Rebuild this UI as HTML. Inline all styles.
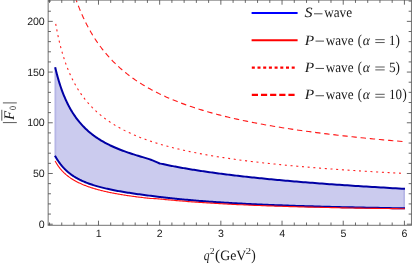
<!DOCTYPE html>
<html><head><meta charset="utf-8"><title>plot</title>
<style>
html,body{margin:0;padding:0;background:#fff;}
body{width:413px;height:266px;overflow:hidden;}
svg{display:block;will-change:transform;}
.tl text{font-family:"Liberation Sans",sans-serif;font-size:10.6px;fill:#1a1a1a;text-rendering:geometricPrecision;letter-spacing:-0.25px;}
.ser{font-family:"Liberation Serif",serif;fill:#181818;text-rendering:geometricPrecision;}
</style></head><body>
<svg width="413" height="266" viewBox="0 0 413 266">
<rect width="413" height="266" fill="#fff"/>
<defs><clipPath id="cp"><rect x="48.15" y="0.1" width="363.3" height="225.20000000000002"/></clipPath></defs>
<g clip-path="url(#cp)" fill="none" stroke-linejoin="round">
<path d="M54.5,67.17 L55.15,67.17 L55.42,68.31 L55.69,69.44 L55.97,70.57 L56.25,71.69 L56.53,72.81 L56.82,73.92 L57.12,75.03 L57.41,76.12 L57.72,77.22 L58.02,78.30 L58.34,79.38 L58.65,80.46 L58.97,81.52 L59.30,82.58 L59.63,83.64 L59.97,84.68 L60.31,85.72 L60.65,86.76 L61.00,87.79 L61.36,88.81 L61.72,89.82 L62.09,90.83 L62.46,91.83 L62.84,92.82 L63.23,93.81 L63.62,94.79 L64.01,95.76 L64.41,96.72 L64.82,97.68 L65.23,98.64 L65.65,99.58 L66.08,100.52 L66.51,101.45 L66.95,102.37 L67.40,103.29 L67.85,104.20 L68.31,105.10 L68.78,106.00 L69.25,106.88 L69.73,107.77 L70.22,108.64 L70.71,109.51 L71.22,110.37 L71.73,111.22 L72.24,112.07 L72.77,112.91 L73.30,113.74 L73.84,114.56 L74.39,115.38 L74.95,116.19 L75.52,117.00 L76.09,117.79 L76.67,118.58 L77.27,119.37 L77.87,120.14 L78.48,120.91 L79.10,121.67 L79.72,122.43 L80.36,123.18 L81.01,123.92 L81.67,124.65 L82.33,125.38 L83.01,126.10 L83.70,126.81 L84.39,127.52 L85.10,128.22 L85.82,128.92 L86.55,129.60 L87.29,130.29 L88.04,130.96 L88.81,131.63 L89.58,132.29 L90.37,132.94 L91.16,133.59 L91.97,134.23 L92.79,134.86 L93.63,135.49 L94.48,136.11 L95.34,136.73 L96.21,137.34 L97.09,137.94 L97.99,138.54 L98.90,139.13 L99.83,139.71 L100.77,140.29 L101.72,140.86 L102.69,141.43 L103.68,141.99 L104.67,142.54 L105.69,143.09 L106.71,143.63 L107.76,144.16 L108.82,144.69 L109.89,145.22 L110.98,145.73 L112.09,146.25 L113.21,146.76 L114.35,147.26 L115.51,147.76 L116.69,148.26 L117.88,148.75 L119.09,149.24 L120.32,149.73 L121.57,150.21 L122.84,150.69 L124.12,151.17 L125.43,151.64 L126.75,152.11 L128.10,152.58 L129.46,153.04 L130.85,153.51 L132.25,153.97 L133.68,154.42 L135.13,154.88 L136.60,155.34 L138.09,155.79 L139.60,156.24 L141.14,156.69 L142.70,157.15 L144.29,157.62 L145.90,158.10 L147.53,158.62 L149.18,159.16 L150.87,159.75 L152.57,160.38 L154.30,161.06 L156.06,161.81 L157.85,162.61 L159.66,163.48 L160.71,163.63 L161.77,163.86 L162.83,164.09 L163.91,164.32 L164.99,164.55 L166.09,164.78 L167.19,165.00 L168.30,165.23 L169.42,165.46 L170.56,165.68 L171.70,165.91 L172.85,166.13 L174.01,166.36 L175.18,166.58 L176.36,166.80 L177.55,167.02 L178.75,167.24 L179.97,167.47 L181.19,167.69 L182.42,167.90 L183.66,168.12 L184.92,168.34 L186.18,168.56 L187.46,168.78 L188.74,168.99 L190.04,169.21 L191.35,169.42 L192.67,169.64 L194.00,169.85 L195.34,170.07 L196.70,170.28 L198.06,170.49 L199.44,170.70 L200.83,170.92 L202.23,171.13 L203.64,171.34 L205.07,171.55 L206.50,171.76 L207.95,171.96 L209.41,172.17 L210.89,172.38 L212.38,172.59 L213.88,172.79 L215.39,173.00 L216.91,173.21 L218.45,173.41 L220.00,173.62 L221.57,173.82 L223.15,174.02 L224.74,174.23 L226.34,174.43 L227.96,174.63 L229.60,174.83 L231.24,175.03 L232.91,175.23 L234.58,175.43 L236.27,175.63 L237.98,175.83 L239.69,176.03 L241.43,176.23 L243.18,176.42 L244.94,176.62 L246.72,176.82 L248.51,177.01 L250.32,177.21 L252.15,177.40 L253.99,177.60 L255.84,177.79 L257.72,177.99 L259.60,178.18 L261.51,178.37 L263.43,178.56 L265.37,178.76 L267.32,178.95 L269.29,179.14 L271.28,179.33 L273.28,179.52 L275.30,179.71 L277.34,179.90 L279.40,180.09 L281.47,180.27 L283.56,180.46 L285.67,180.65 L287.80,180.84 L289.94,181.02 L292.11,181.21 L294.29,181.39 L296.49,181.58 L298.71,181.76 L300.95,181.95 L303.21,182.13 L305.49,182.32 L307.79,182.50 L310.10,182.68 L312.44,182.86 L314.80,183.04 L317.17,183.23 L319.57,183.41 L321.99,183.59 L324.43,183.77 L326.89,183.95 L329.37,184.13 L331.87,184.30 L334.39,184.48 L336.94,184.66 L339.50,184.84 L342.09,185.01 L344.70,185.19 L347.33,185.37 L349.99,185.54 L352.67,185.72 L355.37,185.89 L358.09,186.07 L360.84,186.24 L363.61,186.42 L366.41,186.59 L369.23,186.76 L372.07,186.93 L374.94,187.11 L377.83,187.28 L380.75,187.45 L383.69,187.62 L386.66,187.79 L389.65,187.96 L392.67,188.13 L395.71,188.30 L398.78,188.47 L401.88,188.64 L405.00,188.80 L405.00,208.34 L401.88,208.29 L398.78,208.24 L395.71,208.19 L392.67,208.13 L389.65,208.08 L386.66,208.03 L383.69,207.98 L380.75,207.93 L377.83,207.87 L374.94,207.82 L372.07,207.76 L369.23,207.71 L366.41,207.65 L363.61,207.60 L360.84,207.54 L358.09,207.49 L355.37,207.43 L352.67,207.37 L349.99,207.31 L347.33,207.25 L344.70,207.19 L342.09,207.13 L339.50,207.07 L336.94,207.01 L334.39,206.95 L331.87,206.89 L329.37,206.82 L326.89,206.76 L324.43,206.70 L321.99,206.63 L319.57,206.57 L317.17,206.50 L314.80,206.43 L312.44,206.37 L310.10,206.30 L307.79,206.23 L305.49,206.16 L303.21,206.09 L300.95,206.02 L298.71,205.95 L296.49,205.88 L294.29,205.81 L292.11,205.73 L289.94,205.66 L287.80,205.59 L285.67,205.51 L283.56,205.44 L281.47,205.36 L279.40,205.28 L277.34,205.21 L275.30,205.13 L273.28,205.05 L271.28,204.97 L269.29,204.89 L267.32,204.81 L265.37,204.73 L263.43,204.65 L261.51,204.56 L259.60,204.48 L257.72,204.39 L255.84,204.31 L253.99,204.22 L252.15,204.14 L250.32,204.05 L248.51,203.96 L246.72,203.88 L244.94,203.79 L243.18,203.70 L241.43,203.61 L239.69,203.52 L237.98,203.42 L236.27,203.33 L234.58,203.24 L232.91,203.14 L231.24,203.05 L229.60,202.95 L227.96,202.86 L226.34,202.76 L224.74,202.66 L223.15,202.56 L221.57,202.46 L220.00,202.37 L218.45,202.26 L216.91,202.16 L215.39,202.06 L213.88,201.96 L212.38,201.86 L210.89,201.75 L209.41,201.65 L207.95,201.54 L206.50,201.43 L205.07,201.33 L203.64,201.22 L202.23,201.11 L200.83,201.00 L199.44,200.89 L198.06,200.78 L196.70,200.67 L195.34,200.56 L194.00,200.45 L192.67,200.33 L191.35,200.22 L190.04,200.10 L188.74,199.99 L187.46,199.87 L186.18,199.76 L184.92,199.64 L183.66,199.52 L182.42,199.40 L181.19,199.28 L179.97,199.16 L178.75,199.04 L177.55,198.92 L176.36,198.80 L175.18,198.68 L174.01,198.55 L172.85,198.43 L171.70,198.31 L170.56,198.18 L169.42,198.06 L168.30,197.93 L167.19,197.80 L166.09,197.68 L164.99,197.55 L163.91,197.42 L162.83,197.29 L161.77,197.16 L160.71,197.03 L159.66,196.90 L157.84,196.69 L156.04,196.48 L154.27,196.27 L152.52,196.05 L150.80,195.84 L149.11,195.63 L147.44,195.42 L145.80,195.21 L144.18,194.99 L142.59,194.78 L141.02,194.57 L139.47,194.36 L137.95,194.15 L136.45,193.93 L134.97,193.72 L133.51,193.51 L132.08,193.29 L130.66,193.08 L129.27,192.86 L127.90,192.65 L126.55,192.43 L125.22,192.22 L123.90,192.00 L122.61,191.78 L121.34,191.56 L120.09,191.34 L118.85,191.12 L117.64,190.90 L116.44,190.67 L115.26,190.45 L114.09,190.22 L112.95,189.99 L111.82,189.76 L110.71,189.53 L109.61,189.30 L108.54,189.07 L107.47,188.84 L106.43,188.60 L105.39,188.36 L104.38,188.12 L103.38,187.88 L102.39,187.64 L101.42,187.39 L100.47,187.14 L99.52,186.89 L98.60,186.64 L97.68,186.39 L96.78,186.13 L95.89,185.87 L95.02,185.61 L94.16,185.35 L93.31,185.09 L92.47,184.82 L91.65,184.55 L90.84,184.28 L90.04,184.00 L89.25,183.72 L88.48,183.44 L87.72,183.16 L86.96,182.87 L86.22,182.58 L85.49,182.29 L84.77,182.00 L84.07,181.70 L83.37,181.40 L82.68,181.10 L82.00,180.79 L81.34,180.48 L80.68,180.17 L80.03,179.85 L79.40,179.53 L78.77,179.21 L78.15,178.88 L77.54,178.55 L76.94,178.22 L76.35,177.88 L75.77,177.54 L75.19,177.20 L74.63,176.85 L74.07,176.51 L73.52,176.15 L72.98,175.80 L72.45,175.44 L71.92,175.07 L71.41,174.71 L70.90,174.33 L70.40,173.96 L69.90,173.58 L69.42,173.20 L68.94,172.82 L68.47,172.43 L68.00,172.04 L67.54,171.64 L67.09,171.25 L66.65,170.84 L66.21,170.44 L65.78,170.03 L65.35,169.62 L64.93,169.21 L64.52,168.79 L64.11,168.37 L63.71,167.94 L63.32,167.52 L62.93,167.09 L62.55,166.65 L62.17,166.22 L61.80,165.78 L61.44,165.34 L61.08,164.89 L60.72,164.45 L60.37,164.00 L60.03,163.55 L59.69,163.10 L59.35,162.64 L59.02,162.18 L58.70,161.73 L58.38,161.27 L58.07,160.80 L57.76,160.34 L57.45,159.88 L57.15,159.41 L56.85,158.94 L56.56,158.48 L56.27,158.01 L55.99,157.54 L55.71,157.07 L55.44,156.61 L55.17,156.14 L54.90,155.67 L54.5,155.67 Z" fill="#cbcbee" stroke="none"/>
<path d="M54.5,67.17 H56.3 V158.67 H54.5 Z M403.2,187.80 H405 V208.34 H403.2 Z" fill="#0000aa" fill-opacity="0.1" stroke="none"/>
<path d="M55.15,67.17 L55.42,68.31 L55.69,69.44 L55.97,70.57 L56.25,71.69 L56.53,72.81 L56.82,73.92 L57.12,75.03 L57.41,76.12 L57.72,77.22 L58.02,78.30 L58.34,79.38 L58.65,80.46 L58.97,81.52 L59.30,82.58 L59.63,83.64 L59.97,84.68 L60.31,85.72 L60.65,86.76 L61.00,87.79 L61.36,88.81 L61.72,89.82 L62.09,90.83 L62.46,91.83 L62.84,92.82 L63.23,93.81 L63.62,94.79 L64.01,95.76 L64.41,96.72 L64.82,97.68 L65.23,98.64 L65.65,99.58 L66.08,100.52 L66.51,101.45 L66.95,102.37 L67.40,103.29 L67.85,104.20 L68.31,105.10 L68.78,106.00 L69.25,106.88 L69.73,107.77 L70.22,108.64 L70.71,109.51 L71.22,110.37 L71.73,111.22 L72.24,112.07 L72.77,112.91 L73.30,113.74 L73.84,114.56 L74.39,115.38 L74.95,116.19 L75.52,117.00 L76.09,117.79 L76.67,118.58 L77.27,119.37 L77.87,120.14 L78.48,120.91 L79.10,121.67 L79.72,122.43 L80.36,123.18 L81.01,123.92 L81.67,124.65 L82.33,125.38 L83.01,126.10 L83.70,126.81 L84.39,127.52 L85.10,128.22 L85.82,128.92 L86.55,129.60 L87.29,130.29 L88.04,130.96 L88.81,131.63 L89.58,132.29 L90.37,132.94 L91.16,133.59 L91.97,134.23 L92.79,134.86 L93.63,135.49 L94.48,136.11 L95.34,136.73 L96.21,137.34 L97.09,137.94 L97.99,138.54 L98.90,139.13 L99.83,139.71 L100.77,140.29 L101.72,140.86 L102.69,141.43 L103.68,141.99 L104.67,142.54 L105.69,143.09 L106.71,143.63 L107.76,144.16 L108.82,144.69 L109.89,145.22 L110.98,145.73 L112.09,146.25 L113.21,146.76 L114.35,147.26 L115.51,147.76 L116.69,148.26 L117.88,148.75 L119.09,149.24 L120.32,149.73 L121.57,150.21 L122.84,150.69 L124.12,151.17 L125.43,151.64 L126.75,152.11 L128.10,152.58 L129.46,153.04 L130.85,153.51 L132.25,153.97 L133.68,154.42 L135.13,154.88 L136.60,155.34 L138.09,155.79 L139.60,156.24 L141.14,156.69 L142.70,157.15 L144.29,157.62 L145.90,158.10 L147.53,158.62 L149.18,159.16 L150.87,159.75 L152.57,160.38 L154.30,161.06 L156.06,161.81 L157.85,162.61 L159.66,163.48 L160.71,163.63 L161.77,163.86 L162.83,164.09 L163.91,164.32 L164.99,164.55 L166.09,164.78 L167.19,165.00 L168.30,165.23 L169.42,165.46 L170.56,165.68 L171.70,165.91 L172.85,166.13 L174.01,166.36 L175.18,166.58 L176.36,166.80 L177.55,167.02 L178.75,167.24 L179.97,167.47 L181.19,167.69 L182.42,167.90 L183.66,168.12 L184.92,168.34 L186.18,168.56 L187.46,168.78 L188.74,168.99 L190.04,169.21 L191.35,169.42 L192.67,169.64 L194.00,169.85 L195.34,170.07 L196.70,170.28 L198.06,170.49 L199.44,170.70 L200.83,170.92 L202.23,171.13 L203.64,171.34 L205.07,171.55 L206.50,171.76 L207.95,171.96 L209.41,172.17 L210.89,172.38 L212.38,172.59 L213.88,172.79 L215.39,173.00 L216.91,173.21 L218.45,173.41 L220.00,173.62 L221.57,173.82 L223.15,174.02 L224.74,174.23 L226.34,174.43 L227.96,174.63 L229.60,174.83 L231.24,175.03 L232.91,175.23 L234.58,175.43 L236.27,175.63 L237.98,175.83 L239.69,176.03 L241.43,176.23 L243.18,176.42 L244.94,176.62 L246.72,176.82 L248.51,177.01 L250.32,177.21 L252.15,177.40 L253.99,177.60 L255.84,177.79 L257.72,177.99 L259.60,178.18 L261.51,178.37 L263.43,178.56 L265.37,178.76 L267.32,178.95 L269.29,179.14 L271.28,179.33 L273.28,179.52 L275.30,179.71 L277.34,179.90 L279.40,180.09 L281.47,180.27 L283.56,180.46 L285.67,180.65 L287.80,180.84 L289.94,181.02 L292.11,181.21 L294.29,181.39 L296.49,181.58 L298.71,181.76 L300.95,181.95 L303.21,182.13 L305.49,182.32 L307.79,182.50 L310.10,182.68 L312.44,182.86 L314.80,183.04 L317.17,183.23 L319.57,183.41 L321.99,183.59 L324.43,183.77 L326.89,183.95 L329.37,184.13 L331.87,184.30 L334.39,184.48 L336.94,184.66 L339.50,184.84 L342.09,185.01 L344.70,185.19 L347.33,185.37 L349.99,185.54 L352.67,185.72 L355.37,185.89 L358.09,186.07 L360.84,186.24 L363.61,186.42 L366.41,186.59 L369.23,186.76 L372.07,186.93 L374.94,187.11 L377.83,187.28 L380.75,187.45 L383.69,187.62 L386.66,187.79 L389.65,187.96 L392.67,188.13 L395.71,188.30 L398.78,188.47 L401.88,188.64 L405.00,188.80" stroke="#0000a4" stroke-width="2.0"/>
<path d="M54.90,155.67 L55.17,156.14 L55.44,156.61 L55.71,157.07 L55.99,157.54 L56.27,158.01 L56.56,158.48 L56.85,158.94 L57.15,159.41 L57.45,159.88 L57.76,160.34 L58.07,160.80 L58.38,161.27 L58.70,161.73 L59.02,162.18 L59.35,162.64 L59.69,163.10 L60.03,163.55 L60.37,164.00 L60.72,164.45 L61.08,164.89 L61.44,165.34 L61.80,165.78 L62.17,166.22 L62.55,166.65 L62.93,167.09 L63.32,167.52 L63.71,167.94 L64.11,168.37 L64.52,168.79 L64.93,169.21 L65.35,169.62 L65.78,170.03 L66.21,170.44 L66.65,170.84 L67.09,171.25 L67.54,171.64 L68.00,172.04 L68.47,172.43 L68.94,172.82 L69.42,173.20 L69.90,173.58 L70.40,173.96 L70.90,174.33 L71.41,174.71 L71.92,175.07 L72.45,175.44 L72.98,175.80 L73.52,176.15 L74.07,176.51 L74.63,176.85 L75.19,177.20 L75.77,177.54 L76.35,177.88 L76.94,178.22 L77.54,178.55 L78.15,178.88 L78.77,179.21 L79.40,179.53 L80.03,179.85 L80.68,180.17 L81.34,180.48 L82.00,180.79 L82.68,181.10 L83.37,181.40 L84.07,181.70 L84.77,182.00 L85.49,182.29 L86.22,182.58 L86.96,182.87 L87.72,183.16 L88.48,183.44 L89.25,183.72 L90.04,184.00 L90.84,184.28 L91.65,184.55 L92.47,184.82 L93.31,185.09 L94.16,185.35 L95.02,185.61 L95.89,185.87 L96.78,186.13 L97.68,186.39 L98.60,186.64 L99.52,186.89 L100.47,187.14 L101.42,187.39 L102.39,187.64 L103.38,187.88 L104.38,188.12 L105.39,188.36 L106.43,188.60 L107.47,188.84 L108.54,189.07 L109.61,189.30 L110.71,189.53 L111.82,189.76 L112.95,189.99 L114.09,190.22 L115.26,190.45 L116.44,190.67 L117.64,190.90 L118.85,191.12 L120.09,191.34 L121.34,191.56 L122.61,191.78 L123.90,192.00 L125.22,192.22 L126.55,192.43 L127.90,192.65 L129.27,192.86 L130.66,193.08 L132.08,193.29 L133.51,193.51 L134.97,193.72 L136.45,193.93 L137.95,194.15 L139.47,194.36 L141.02,194.57 L142.59,194.78 L144.18,194.99 L145.80,195.21 L147.44,195.42 L149.11,195.63 L150.80,195.84 L152.52,196.05 L154.27,196.27 L156.04,196.48 L157.84,196.69 L159.66,196.90 L160.71,197.03 L161.77,197.16 L162.83,197.29 L163.91,197.42 L164.99,197.55 L166.09,197.68 L167.19,197.80 L168.30,197.93 L169.42,198.06 L170.56,198.18 L171.70,198.31 L172.85,198.43 L174.01,198.55 L175.18,198.68 L176.36,198.80 L177.55,198.92 L178.75,199.04 L179.97,199.16 L181.19,199.28 L182.42,199.40 L183.66,199.52 L184.92,199.64 L186.18,199.76 L187.46,199.87 L188.74,199.99 L190.04,200.10 L191.35,200.22 L192.67,200.33 L194.00,200.45 L195.34,200.56 L196.70,200.67 L198.06,200.78 L199.44,200.89 L200.83,201.00 L202.23,201.11 L203.64,201.22 L205.07,201.33 L206.50,201.43 L207.95,201.54 L209.41,201.65 L210.89,201.75 L212.38,201.86 L213.88,201.96 L215.39,202.06 L216.91,202.16 L218.45,202.26 L220.00,202.37 L221.57,202.46 L223.15,202.56 L224.74,202.66 L226.34,202.76 L227.96,202.86 L229.60,202.95 L231.24,203.05 L232.91,203.14 L234.58,203.24 L236.27,203.33 L237.98,203.42 L239.69,203.52 L241.43,203.61 L243.18,203.70 L244.94,203.79 L246.72,203.88 L248.51,203.96 L250.32,204.05 L252.15,204.14 L253.99,204.22 L255.84,204.31 L257.72,204.39 L259.60,204.48 L261.51,204.56 L263.43,204.65 L265.37,204.73 L267.32,204.81 L269.29,204.89 L271.28,204.97 L273.28,205.05 L275.30,205.13 L277.34,205.21 L279.40,205.28 L281.47,205.36 L283.56,205.44 L285.67,205.51 L287.80,205.59 L289.94,205.66 L292.11,205.73 L294.29,205.81 L296.49,205.88 L298.71,205.95 L300.95,206.02 L303.21,206.09 L305.49,206.16 L307.79,206.23 L310.10,206.30 L312.44,206.37 L314.80,206.43 L317.17,206.50 L319.57,206.57 L321.99,206.63 L324.43,206.70 L326.89,206.76 L329.37,206.82 L331.87,206.89 L334.39,206.95 L336.94,207.01 L339.50,207.07 L342.09,207.13 L344.70,207.19 L347.33,207.25 L349.99,207.31 L352.67,207.37 L355.37,207.43 L358.09,207.49 L360.84,207.54 L363.61,207.60 L366.41,207.65 L369.23,207.71 L372.07,207.76 L374.94,207.82 L377.83,207.87 L380.75,207.93 L383.69,207.98 L386.66,208.03 L389.65,208.08 L392.67,208.13 L395.71,208.19 L398.78,208.24 L401.88,208.29 L405.00,208.34" stroke="#0000a4" stroke-width="2.0"/>
<path d="M55.10,160.91 L55.31,161.30 L55.52,161.69 L55.74,162.07 L55.95,162.45 L56.17,162.83 L56.39,163.20 L56.62,163.57 L56.85,163.94 L57.08,164.30 L57.31,164.66 L57.54,165.02 L57.78,165.38 L58.02,165.73 L58.27,166.08 L58.51,166.43 L58.76,166.77 L59.02,167.11 L59.27,167.45 L59.53,167.79 L59.79,168.12 L60.06,168.45 L60.32,168.78 L60.60,169.11 L60.87,169.43 L61.15,169.75 L61.43,170.07 L61.71,170.39 L62.00,170.70 L62.29,171.02 L62.58,171.33 L62.88,171.63 L63.18,171.94 L63.49,172.24 L63.79,172.55 L64.11,172.84 L64.42,173.14 L64.74,173.44 L65.06,173.73 L65.39,174.02 L65.72,174.31 L66.05,174.60 L66.39,174.88 L66.73,175.17 L67.08,175.45 L67.43,175.73 L67.78,176.01 L68.14,176.28 L68.51,176.56 L68.87,176.83 L69.24,177.10 L69.62,177.37 L70.00,177.64 L70.39,177.90 L70.77,178.17 L71.17,178.43 L71.57,178.69 L71.97,178.95 L72.38,179.21 L72.79,179.46 L73.21,179.72 L73.63,179.97 L74.06,180.22 L74.49,180.47 L74.93,180.72 L75.37,180.96 L75.82,181.21 L76.27,181.45 L76.73,181.69 L77.19,181.93 L77.66,182.17 L78.14,182.41 L78.62,182.65 L79.10,182.88 L79.59,183.11 L80.09,183.34 L80.59,183.58 L81.10,183.80 L81.62,184.03 L82.14,184.26 L82.67,184.48 L83.20,184.71 L83.74,184.93 L84.29,185.15 L84.84,185.37 L85.40,185.59 L85.96,185.80 L86.54,186.02 L87.11,186.23 L87.70,186.45 L88.29,186.66 L88.89,186.87 L89.50,187.08 L90.11,187.28 L90.73,187.49 L91.36,187.70 L92.00,187.90 L92.64,188.10 L93.29,188.30 L93.95,188.50 L94.62,188.70 L95.29,188.90 L95.97,189.10 L96.66,189.29 L97.36,189.49 L98.07,189.68 L98.78,189.88 L99.50,190.07 L100.24,190.26 L100.98,190.44 L101.72,190.63 L102.48,190.82 L103.25,191.00 L104.02,191.19 L104.81,191.37 L105.60,191.55 L106.41,191.73 L107.22,191.91 L108.04,192.09 L108.87,192.27 L109.71,192.45 L110.56,192.62 L111.43,192.80 L112.30,192.97 L113.18,193.14 L114.07,193.31 L114.97,193.48 L115.89,193.65 L116.81,193.82 L117.75,193.99 L118.69,194.15 L119.65,194.32 L120.62,194.48 L121.60,194.65 L122.59,194.81 L123.59,194.97 L124.61,195.13 L125.63,195.29 L126.67,195.44 L127.72,195.60 L128.78,195.76 L129.86,195.91 L130.95,196.07 L132.05,196.22 L133.16,196.37 L134.29,196.52 L135.43,196.67 L136.58,196.82 L137.75,196.97 L138.93,197.12 L140.13,197.26 L141.34,197.41 L142.56,197.55 L143.80,197.70 L145.05,197.84 L146.32,197.98 L147.60,198.12 L148.90,198.26 L150.21,198.39 L151.53,198.46 L152.88,198.53 L154.24,198.60 L155.61,198.68 L157.00,198.77 L158.41,198.87 L159.83,199.00 L161.27,199.14 L162.73,199.29 L164.21,199.43 L165.70,199.57 L167.21,199.72 L168.73,199.86 L170.28,200.00 L171.84,200.15 L173.43,200.29 L175.03,200.44 L176.64,200.58 L178.28,200.72 L179.94,200.87 L181.62,201.01 L183.31,201.15 L185.03,201.30 L186.77,201.44 L188.52,201.58 L190.30,201.72 L192.10,201.86 L193.92,202.00 L195.76,202.13 L197.63,202.27 L199.51,202.40 L201.42,202.53 L203.35,202.66 L205.30,202.79 L207.27,202.92 L209.27,203.04 L211.29,203.17 L213.34,203.29 L215.41,203.41 L217.50,203.53 L219.62,203.65 L221.76,203.77 L223.93,203.89 L226.13,204.01 L228.35,204.13 L230.59,204.24 L232.86,204.36 L235.16,204.47 L237.49,204.58 L239.84,204.69 L242.22,204.80 L244.63,204.91 L247.07,205.02 L249.54,205.12 L252.03,205.23 L254.56,205.33 L257.11,205.44 L259.69,205.54 L262.31,205.64 L264.95,205.74 L267.63,205.84 L270.34,205.93 L273.08,206.03 L275.85,206.12 L278.65,206.22 L281.49,206.31 L284.36,206.40 L287.27,206.49 L290.20,206.58 L293.18,206.66 L296.19,206.75 L299.23,206.83 L302.31,206.92 L305.42,207.00 L308.58,207.08 L311.76,207.16 L314.99,207.24 L318.26,207.31 L321.56,207.39 L324.90,207.46 L328.28,207.54 L331.70,207.61 L335.16,207.68 L338.66,207.75 L342.21,207.82 L345.79,207.89 L349.42,207.95 L353.09,208.02 L356.80,208.08 L360.55,208.15 L364.35,208.21 L368.20,208.27 L372.09,208.33 L376.02,208.39 L380.01,208.45 L384.04,208.51 L388.11,208.56 L392.24,208.62 L396.41,208.68 L400.63,208.73 L404.90,208.78" stroke="#ff1010" stroke-width="1.12"/>
<path d="M55.60,23.24 L55.81,24.45 L56.03,25.66 L56.25,26.85 L56.47,28.04 L56.69,29.21 L56.91,30.37 L57.14,31.53 L57.37,32.68 L57.61,33.81 L57.84,34.94 L58.08,36.06 L58.32,37.17 L58.57,38.28 L58.81,39.37 L59.06,40.45 L59.32,41.53 L59.57,42.60 L59.83,43.66 L60.09,44.72 L60.36,45.76 L60.62,46.80 L60.89,47.83 L61.17,48.85 L61.45,49.87 L61.73,50.88 L62.01,51.88 L62.30,52.87 L62.59,53.86 L62.88,54.84 L63.18,55.81 L63.48,56.78 L63.78,57.74 L64.09,58.69 L64.40,59.64 L64.72,60.58 L65.04,61.51 L65.36,62.44 L65.68,63.36 L66.01,64.27 L66.35,65.18 L66.68,66.09 L67.03,66.98 L67.37,67.88 L67.72,68.76 L68.07,69.64 L68.43,70.51 L68.79,71.38 L69.16,72.25 L69.53,73.10 L69.90,73.96 L70.28,74.80 L70.66,75.64 L71.05,76.48 L71.44,77.31 L71.84,78.14 L72.24,78.96 L72.65,79.77 L73.06,80.58 L73.47,81.39 L73.89,82.19 L74.32,82.98 L74.75,83.77 L75.18,84.56 L75.62,85.34 L76.07,86.12 L76.52,86.89 L76.97,87.65 L77.43,88.42 L77.90,89.17 L78.37,89.93 L78.85,90.67 L79.33,91.42 L79.82,92.16 L80.31,92.89 L80.81,93.62 L81.32,94.35 L81.83,95.07 L82.35,95.79 L82.87,96.50 L83.40,97.21 L83.93,97.92 L84.48,98.62 L85.02,99.31 L85.58,100.01 L86.14,100.70 L86.71,101.38 L87.28,102.06 L87.86,102.74 L88.45,103.41 L89.04,104.08 L89.64,104.74 L90.25,105.40 L90.86,106.06 L91.49,106.71 L92.11,107.36 L92.75,108.00 L93.40,108.64 L94.05,109.28 L94.71,109.92 L95.37,110.55 L96.05,111.17 L96.73,111.79 L97.42,112.41 L98.12,113.03 L98.82,113.64 L99.54,114.25 L100.26,114.85 L100.99,115.45 L101.73,116.05 L102.48,116.64 L103.23,117.23 L104.00,117.82 L104.77,118.40 L105.56,118.98 L106.35,119.55 L107.15,120.13 L107.96,120.70 L108.78,121.26 L109.61,121.82 L110.45,122.38 L111.30,122.94 L112.16,123.49 L113.03,124.04 L113.91,124.58 L114.80,125.13 L115.70,125.66 L116.61,126.20 L117.53,126.73 L118.46,127.26 L119.40,127.79 L120.36,128.31 L121.32,128.83 L122.30,129.34 L123.28,129.86 L124.28,130.37 L125.29,130.87 L126.31,131.38 L127.35,131.88 L128.39,132.37 L129.45,132.87 L130.52,133.36 L131.60,133.85 L132.70,134.33 L133.80,134.81 L134.93,135.29 L136.06,135.77 L137.20,136.24 L138.36,136.71 L139.54,137.18 L140.73,137.64 L141.93,138.10 L143.14,138.56 L144.37,139.01 L145.61,139.47 L146.87,139.91 L148.14,140.36 L149.43,140.80 L150.73,141.24 L152.05,141.68 L153.38,142.12 L154.73,142.55 L156.09,142.98 L157.47,143.40 L158.86,143.83 L160.28,144.25 L161.70,144.67 L163.15,145.08 L164.61,145.50 L166.09,145.91 L167.58,146.31 L169.09,146.72 L170.62,147.12 L172.17,147.52 L173.74,147.91 L175.32,148.31 L176.92,148.70 L178.54,149.09 L180.18,149.47 L181.84,149.86 L183.52,150.24 L185.22,150.62 L186.93,150.99 L188.67,151.37 L190.43,151.74 L192.21,152.10 L194.00,152.47 L195.82,152.83 L197.66,153.19 L199.53,153.55 L201.41,153.91 L203.31,154.26 L205.24,154.61 L207.19,154.96 L209.16,155.31 L211.16,155.65 L213.18,155.99 L215.22,156.33 L217.28,156.67 L219.37,157.00 L221.49,157.33 L223.62,157.66 L225.79,157.99 L227.98,158.31 L230.19,158.64 L232.43,158.96 L234.69,159.28 L236.98,159.59 L239.30,159.91 L241.65,160.22 L244.02,160.53 L246.42,160.83 L248.85,161.14 L251.30,161.44 L253.79,161.74 L256.30,162.04 L258.84,162.34 L261.41,162.63 L264.01,162.93 L266.65,163.22 L269.31,163.50 L272.00,163.79 L274.73,164.07 L277.48,164.36 L280.27,164.64 L283.09,164.91 L285.94,165.19 L288.83,165.47 L291.75,165.74 L294.70,166.01 L297.69,166.28 L300.71,166.54 L303.77,166.81 L306.87,167.07 L309.99,167.33 L313.16,167.59 L316.36,167.85 L319.60,168.10 L322.88,168.36 L326.19,168.61 L329.55,168.86 L332.94,169.10 L336.37,169.35 L339.84,169.60 L343.35,169.84 L346.91,170.08 L350.50,170.32 L354.14,170.56 L357.81,170.79 L361.54,171.03 L365.30,171.26 L369.11,171.49 L372.96,171.72 L376.85,171.95 L380.80,172.17 L384.78,172.40 L388.82,172.62 L392.90,172.84 L397.02,173.06 L401.20,173.28" stroke="#ff2020" stroke-width="1.1" stroke-dasharray="2.0 3.72" stroke-dashoffset="-0.61"/>
<path d="M70.00,-19.72 L70.31,-18.61 L70.62,-17.50 L70.93,-16.40 L71.24,-15.31 L71.56,-14.22 L71.88,-13.14 L72.21,-12.06 L72.53,-10.99 L72.86,-9.92 L73.20,-8.86 L73.53,-7.81 L73.87,-6.75 L74.21,-5.71 L74.56,-4.67 L74.91,-3.63 L75.26,-2.60 L75.62,-1.58 L75.98,-0.56 L76.34,0.45 L76.70,1.46 L77.07,2.47 L77.45,3.47 L77.82,4.46 L78.20,5.45 L78.59,6.44 L78.97,7.42 L79.36,8.40 L79.76,9.37 L80.15,10.33 L80.56,11.30 L80.96,12.25 L81.37,13.20 L81.78,14.15 L82.20,15.10 L82.62,16.03 L83.04,16.97 L83.47,17.90 L83.91,18.82 L84.34,19.75 L84.78,20.66 L85.23,21.57 L85.68,22.48 L86.13,23.39 L86.59,24.28 L87.05,25.18 L87.51,26.07 L87.99,26.96 L88.46,27.84 L88.94,28.72 L89.42,29.59 L89.91,30.46 L90.40,31.32 L90.90,32.18 L91.40,33.04 L91.91,33.89 L92.42,34.74 L92.94,35.59 L93.46,36.43 L93.99,37.27 L94.52,38.10 L95.05,38.93 L95.59,39.75 L96.14,40.57 L96.69,41.39 L97.25,42.20 L97.81,43.01 L98.37,43.82 L98.95,44.62 L99.52,45.42 L100.11,46.21 L100.70,47.00 L101.29,47.79 L101.89,48.57 L102.49,49.35 L103.10,50.12 L103.72,50.89 L104.34,51.66 L104.97,52.42 L105.60,53.18 L106.24,53.94 L106.89,54.69 L107.54,55.44 L108.20,56.19 L108.86,56.93 L109.53,57.67 L110.21,58.40 L110.89,59.13 L111.58,59.86 L112.28,60.58 L112.98,61.30 L113.69,62.02 L114.40,62.73 L115.13,63.44 L115.86,64.15 L116.59,64.85 L117.33,65.55 L118.08,66.25 L118.84,66.94 L119.60,67.63 L120.38,68.31 L121.15,68.99 L121.94,69.67 L122.73,70.35 L123.53,71.02 L124.34,71.69 L125.15,72.35 L125.98,73.02 L126.81,73.67 L127.65,74.33 L128.49,74.98 L129.35,75.63 L130.21,76.27 L131.08,76.92 L131.96,77.56 L132.84,78.19 L133.74,78.82 L134.64,79.45 L135.55,80.08 L136.47,80.70 L137.40,81.32 L138.34,81.94 L139.29,82.55 L140.24,83.16 L141.20,83.77 L142.18,84.37 L143.16,84.97 L144.15,85.57 L145.15,86.17 L146.16,86.76 L147.18,87.35 L148.21,87.93 L149.25,88.51 L150.30,89.09 L151.36,89.67 L152.42,90.24 L153.50,90.81 L154.59,91.38 L155.69,91.94 L156.80,92.50 L157.92,93.06 L159.05,93.62 L160.19,94.17 L161.34,94.72 L162.50,95.27 L163.67,95.81 L164.86,96.35 L166.05,96.89 L167.26,97.42 L168.47,97.96 L169.70,98.49 L170.94,99.01 L172.19,99.54 L173.46,100.06 L174.73,100.58 L176.02,101.09 L177.32,101.60 L178.63,102.11 L179.95,102.62 L181.29,103.12 L182.64,103.63 L184.00,104.12 L185.37,104.62 L186.76,105.11 L188.16,105.60 L189.57,106.09 L191.00,106.58 L192.44,107.06 L193.89,107.54 L195.35,108.02 L196.83,108.49 L198.33,108.96 L199.84,109.43 L201.36,109.90 L202.90,110.36 L204.45,110.83 L206.01,111.29 L207.59,111.74 L209.19,112.20 L210.80,112.65 L212.42,113.10 L214.06,113.54 L215.72,113.99 L217.39,114.43 L219.07,114.87 L220.78,115.30 L222.49,115.74 L224.23,116.17 L225.98,116.60 L227.74,117.03 L229.53,117.45 L231.33,117.87 L233.15,118.29 L234.98,118.71 L236.83,119.12 L238.70,119.54 L240.59,119.95 L242.49,120.36 L244.41,120.76 L246.35,121.16 L248.31,121.57 L250.28,121.96 L252.28,122.36 L254.29,122.75 L256.32,123.15 L258.37,123.54 L260.44,123.92 L262.53,124.31 L264.64,124.69 L266.77,125.07 L268.92,125.45 L271.09,125.83 L273.28,126.20 L275.49,126.57 L277.72,126.94 L279.97,127.31 L282.24,127.68 L284.54,128.04 L286.85,128.40 L289.19,128.76 L291.55,129.12 L293.93,129.47 L296.33,129.83 L298.76,130.18 L301.21,130.53 L303.68,130.88 L306.17,131.22 L308.69,131.56 L311.23,131.91 L313.80,132.24 L316.38,132.58 L319.00,132.92 L321.64,133.25 L324.30,133.58 L326.99,133.91 L329.70,134.24 L332.44,134.57 L335.20,134.89 L337.99,135.21 L340.81,135.53 L343.65,135.85 L346.52,136.17 L349.41,136.48 L352.34,136.79 L355.29,137.11 L358.26,137.41 L361.27,137.72 L364.30,138.03 L367.36,138.33 L370.46,138.63 L373.57,138.93 L376.72,139.23 L379.90,139.53 L383.11,139.83 L386.35,140.12 L389.62,140.41 L392.92,140.70 L396.25,140.99 L399.61,141.28 L403.00,141.56" stroke="#ff1818" stroke-width="1.1" stroke-dasharray="5.4 3.76" stroke-dashoffset="-8.50"/>
</g>
<g fill="none" stroke="#727272" stroke-width="1">
<rect x="48.15" y="0.1" width="363.3" height="225.20000000000002"/>
<path d="M49.52,225.3 v-2.8 M49.52,0.1 v2.8 M61.76,225.3 v-2.8 M61.76,0.1 v2.8 M73.99,225.3 v-2.8 M73.99,0.1 v2.8 M86.23,225.3 v-2.8 M86.23,0.1 v2.8 M98.47,225.3 v-4.6 M98.47,0.1 v4.6 M110.71,225.3 v-2.8 M110.71,0.1 v2.8 M122.95,225.3 v-2.8 M122.95,0.1 v2.8 M135.18,225.3 v-2.8 M135.18,0.1 v2.8 M147.42,225.3 v-2.8 M147.42,0.1 v2.8 M159.66,225.3 v-4.6 M159.66,0.1 v4.6 M171.90,225.3 v-2.8 M171.90,0.1 v2.8 M184.14,225.3 v-2.8 M184.14,0.1 v2.8 M196.37,225.3 v-2.8 M196.37,0.1 v2.8 M208.61,225.3 v-2.8 M208.61,0.1 v2.8 M220.85,225.3 v-4.6 M220.85,0.1 v4.6 M233.09,225.3 v-2.8 M233.09,0.1 v2.8 M245.33,225.3 v-2.8 M245.33,0.1 v2.8 M257.56,225.3 v-2.8 M257.56,0.1 v2.8 M269.80,225.3 v-2.8 M269.80,0.1 v2.8 M282.04,225.3 v-4.6 M282.04,0.1 v4.6 M294.28,225.3 v-2.8 M294.28,0.1 v2.8 M306.52,225.3 v-2.8 M306.52,0.1 v2.8 M318.75,225.3 v-2.8 M318.75,0.1 v2.8 M330.99,225.3 v-2.8 M330.99,0.1 v2.8 M343.23,225.3 v-4.6 M343.23,0.1 v4.6 M355.47,225.3 v-2.8 M355.47,0.1 v2.8 M367.71,225.3 v-2.8 M367.71,0.1 v2.8 M379.94,225.3 v-2.8 M379.94,0.1 v2.8 M392.18,225.3 v-2.8 M392.18,0.1 v2.8 M404.42,225.3 v-4.6 M404.42,0.1 v4.6 M48.15,224.20 h4.6 M411.45,224.20 h-4.6 M48.15,214.06 h2.8 M411.45,214.06 h-2.8 M48.15,203.92 h2.8 M411.45,203.92 h-2.8 M48.15,193.77 h2.8 M411.45,193.77 h-2.8 M48.15,183.63 h2.8 M411.45,183.63 h-2.8 M48.15,173.49 h4.6 M411.45,173.49 h-4.6 M48.15,163.35 h2.8 M411.45,163.35 h-2.8 M48.15,153.21 h2.8 M411.45,153.21 h-2.8 M48.15,143.06 h2.8 M411.45,143.06 h-2.8 M48.15,132.92 h2.8 M411.45,132.92 h-2.8 M48.15,122.78 h4.6 M411.45,122.78 h-4.6 M48.15,112.64 h2.8 M411.45,112.64 h-2.8 M48.15,102.50 h2.8 M411.45,102.50 h-2.8 M48.15,92.35 h2.8 M411.45,92.35 h-2.8 M48.15,82.21 h2.8 M411.45,82.21 h-2.8 M48.15,72.07 h4.6 M411.45,72.07 h-4.6 M48.15,61.93 h2.8 M411.45,61.93 h-2.8 M48.15,51.79 h2.8 M411.45,51.79 h-2.8 M48.15,41.64 h2.8 M411.45,41.64 h-2.8 M48.15,31.50 h2.8 M411.45,31.50 h-2.8 M48.15,21.36 h4.6 M411.45,21.36 h-4.6 M48.15,11.22 h2.8 M411.45,11.22 h-2.8 M48.15,1.08 h2.8 M411.45,1.08 h-2.8" stroke="#4c4c4c" stroke-width="0.85"/>
</g>
<g class="tl"><text x="98.47" y="237.1" text-anchor="middle">1</text><text x="159.66" y="237.1" text-anchor="middle">2</text><text x="220.85" y="237.1" text-anchor="middle">3</text><text x="282.04" y="237.1" text-anchor="middle">4</text><text x="343.23" y="237.1" text-anchor="middle">5</text><text x="404.42" y="237.1" text-anchor="middle">6</text><text x="44.3" y="227.80" text-anchor="end">0</text><text x="44.3" y="177.09" text-anchor="end">50</text><text x="44.3" y="126.38" text-anchor="end">100</text><text x="44.3" y="75.67" text-anchor="end">150</text><text x="44.3" y="24.96" text-anchor="end">200</text></g>
<!-- legend -->
<g fill="none" stroke-width="2.1">
<path d="M251.6,13.0 H297.6" stroke="#0000ff"/>
<path d="M251.6,40.25 H297.6" stroke="#ff0000"/>
<path d="M251.8,67.6 H295" stroke="#ff0000" stroke-width="2.4" stroke-dasharray="3.0 2.7"/>
<path d="M251.8,94.85 H295" stroke="#ff0000" stroke-width="2.2" stroke-dasharray="6.2 2.95"/>
</g>
<g class="ser">
<text transform="translate(304.60,17.30) scale(1.134,1)" font-size="14.2px" font-style="italic">S</text>
<path d="M314.00,13.80 H322.50" stroke="#000" stroke-width="0.7" fill="none"/>
<text transform="translate(324.20,17.30) scale(0.931,1)" font-size="14.2px">wave</text>
<text transform="translate(304.74,44.65) scale(1.086,1)" font-size="14.2px" font-style="italic">P</text>
<path d="M315.50,41.10 H324.00" stroke="#000" stroke-width="0.7" fill="none"/>
<text transform="translate(325.70,44.65) scale(0.928,1)" font-size="14.2px">wave</text>
<text transform="translate(357.81,44.65) scale(0.876,1.06)" font-size="14.2px">(</text>
<text transform="translate(362.69,44.65) scale(0.954,1)" font-size="14.2px" font-style="italic">α</text>
<path d="M375.30,39.65 H384.70" stroke="#000" stroke-width="0.65" fill="none"/>
<path d="M375.30,42.55 H384.70" stroke="#000" stroke-width="0.65" fill="none"/>
<text transform="translate(388.84,44.65) scale(0.958,1)" font-size="14.2px">1</text>
<text transform="translate(395.59,44.65) scale(0.928,1.06)" font-size="14.2px">)</text>
<text transform="translate(304.74,72.00) scale(1.086,1)" font-size="14.2px" font-style="italic">P</text>
<path d="M315.50,68.45 H324.00" stroke="#000" stroke-width="0.7" fill="none"/>
<text transform="translate(325.70,72.00) scale(0.928,1)" font-size="14.2px">wave</text>
<text transform="translate(357.81,72.00) scale(0.876,1.06)" font-size="14.2px">(</text>
<text transform="translate(362.69,72.00) scale(0.954,1)" font-size="14.2px" font-style="italic">α</text>
<path d="M375.30,67.00 H384.70" stroke="#000" stroke-width="0.65" fill="none"/>
<path d="M375.30,69.90 H384.70" stroke="#000" stroke-width="0.65" fill="none"/>
<text transform="translate(388.98,72.00) scale(0.935,1)" font-size="14.2px">5</text>
<text transform="translate(395.59,72.00) scale(0.928,1.06)" font-size="14.2px">)</text>
<text transform="translate(304.74,99.30) scale(1.086,1)" font-size="14.2px" font-style="italic">P</text>
<path d="M315.50,95.75 H324.00" stroke="#000" stroke-width="0.7" fill="none"/>
<text transform="translate(325.70,99.30) scale(0.928,1)" font-size="14.2px">wave</text>
<text transform="translate(357.81,99.30) scale(0.876,1.06)" font-size="14.2px">(</text>
<text transform="translate(362.69,99.30) scale(0.954,1)" font-size="14.2px" font-style="italic">α</text>
<path d="M375.30,94.30 H384.70" stroke="#000" stroke-width="0.65" fill="none"/>
<path d="M375.30,97.20 H384.70" stroke="#000" stroke-width="0.65" fill="none"/>
<text transform="translate(388.88,99.30) scale(0.917,1)" font-size="14.2px">10</text>
<text transform="translate(402.60,99.30) scale(0.901,1.06)" font-size="14.2px">)</text>
</g>
<g class="ser">
<text transform="translate(203.63,259.50) scale(0.824,1)" font-size="14.2px" font-style="italic">q</text>
<text transform="translate(210.02,254.00) scale(0.979,1)" font-size="9.2px">2</text>
<text transform="translate(215.02,259.50) scale(1.077,1.06)" font-size="14.2px">(</text>
<text transform="translate(220.27,259.50) scale(0.973,1)" font-size="14.2px">GeV</text>
<text transform="translate(245.67,253.90) scale(1.159,1)" font-size="9.2px">2</text>
<text transform="translate(251.18,259.50) scale(0.954,1.06)" font-size="14.2px">)</text>
</g>
<g class="ser">
<g transform="translate(13.8,0) rotate(-90)"><text transform="translate(-119.68,0.00) scale(0.984,1)" font-size="14.6px" font-style="italic">F</text><text transform="translate(-109.96,1.80) scale(0.857,1)" font-size="9.6px">0</text></g><path d="M2.9,122.6 H16.8 M2.9,102.9 H16.8" stroke="#111" stroke-width="0.7" fill="none"/><path d="M1.8,109.8 V120.7" stroke="#111" stroke-width="0.7" fill="none"/>
</g>
</svg>
</body></html>
